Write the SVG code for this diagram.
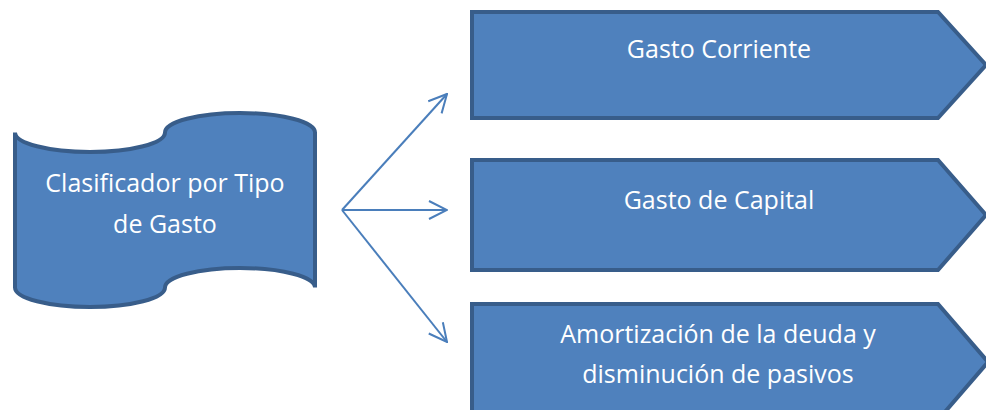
<svg xmlns="http://www.w3.org/2000/svg" width="986" height="410" viewBox="0 0 986 410">
<style>
.shape{fill:#4f81bd;stroke:#385d8a;stroke-width:4}
.lbl{fill:#ffffff;font-family:"Open Sans","Noto Sans","Liberation Sans",sans-serif;font-size:25px;text-anchor:middle}
.conn{fill:none;stroke:#4a7ebb;stroke-width:2}
</style>
<defs>
<marker id="arr" viewBox="0 0 20 20" refX="19" refY="10" markerWidth="20" markerHeight="20" markerUnits="userSpaceOnUse" orient="auto">
<path d="M1,1 L19,10 L1,19" fill="none" stroke="#4a7ebb" stroke-width="2"/>
</marker>
</defs>
<rect width="986" height="410" fill="#ffffff"/>
<g id="clasificador">
<path class="shape" d="M15,132.5 A75,19.5 0 0 0 165,132.5 A75,19.5 0 0 1 315,132.5 L315,287.5 A75,19.5 0 0 0 165,287.5 A75,19.5 0 0 1 15,287.5 Z"/>
<text class="lbl" x="165" y="192">Clasificador por Tipo</text>
<text class="lbl" x="165" y="233">de Gasto</text>
</g>
<g id="connectors">
<line class="conn" x1="342" y1="210" x2="447" y2="94" marker-end="url(#arr)"/>
<line class="conn" x1="342" y1="210" x2="447" y2="210" marker-end="url(#arr)"/>
<line class="conn" x1="342" y1="210" x2="447" y2="342" marker-end="url(#arr)"/>
</g>
<g id="gasto-corriente">
<path class="shape" d="M472,12 L938,12 L986,65 L938,118 L472,118 Z"/>
<text class="lbl" x="719" y="58">Gasto Corriente</text>
</g>
<g id="gasto-capital">
<path class="shape" d="M472,160 L938,160 L986,215 L938,270 L472,270 Z"/>
<text class="lbl" x="719" y="209">Gasto de Capital</text>
</g>
<g id="amortizacion">
<path class="shape" d="M472,304 L938,304 L988,362 L938,420 L472,420 Z"/>
<text class="lbl" x="718" y="343">Amortización de la deuda y</text>
<text class="lbl" x="718" y="383">disminución de pasivos</text>
</g>
</svg>
